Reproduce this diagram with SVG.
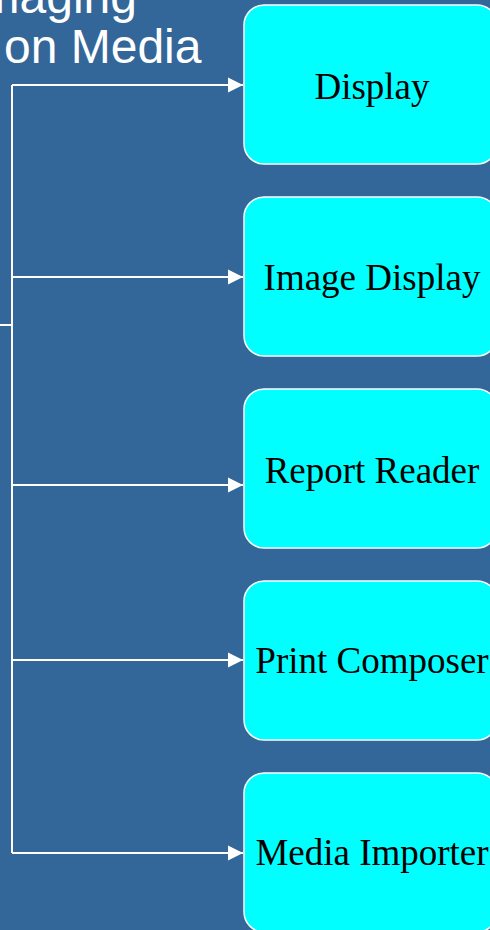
<svg xmlns="http://www.w3.org/2000/svg" width="490" height="930" viewBox="0 0 490 930">
<style>
.box{fill:#00ffff;stroke:#ffffff;stroke-width:1.5}
.lbl{font-family:"Liberation Serif","Times New Roman",serif;font-size:37px;fill:#000000;text-anchor:middle}
.ttl{font-family:"Liberation Sans",Arial,sans-serif;font-size:48px;fill:#ffffff}
.ln{stroke:#ffffff;stroke-width:2;fill:none}
</style>
<defs>
<marker id="ah" markerUnits="userSpaceOnUse" markerWidth="16" markerHeight="16" refX="15" refY="8" orient="auto">
<path d="M0,0.5 L15,8 L0,15.5 Z" fill="#ffffff"/>
</marker>
</defs>
<rect x="0" y="0" width="490" height="930" fill="#336699"/>
<g id="title">
<text class="ttl" x="137" y="13" text-anchor="end">Imaging</text>
<text class="ttl" x="4" y="63">on Media</text>
</g>
<g id="connectors">
<path class="ln" d="M0,325 H12"/>
<path class="ln" d="M12,85 V853"/>
<path class="ln" d="M12,85 H243" marker-end="url(#ah)"/>
<path class="ln" d="M12,277 H243" marker-end="url(#ah)"/>
<path class="ln" d="M12,485 H243" marker-end="url(#ah)"/>
<path class="ln" d="M12,660 H243" marker-end="url(#ah)"/>
<path class="ln" d="M12,853 H243" marker-end="url(#ah)"/>
</g>
<g id="node-display">
<rect class="box" x="244" y="5" width="253" height="159" rx="20" ry="20"/>
<text class="lbl" x="372" y="99">Display</text>
</g>
<g id="node-image-display">
<rect class="box" x="244" y="197" width="253" height="159" rx="20" ry="20"/>
<text class="lbl" x="372" y="290">Image Display</text>
</g>
<g id="node-report-reader">
<rect class="box" x="244" y="389" width="253" height="159" rx="20" ry="20"/>
<text class="lbl" x="372" y="483">Report Reader</text>
</g>
<g id="node-print-composer">
<rect class="box" x="244" y="581" width="253" height="159" rx="20" ry="20"/>
<text class="lbl" x="372" y="673">Print Composer</text>
</g>
<g id="node-media-importer">
<rect class="box" x="244" y="773" width="253" height="159" rx="20" ry="20"/>
<text class="lbl" x="372" y="865">Media Importer</text>
</g>
</svg>
